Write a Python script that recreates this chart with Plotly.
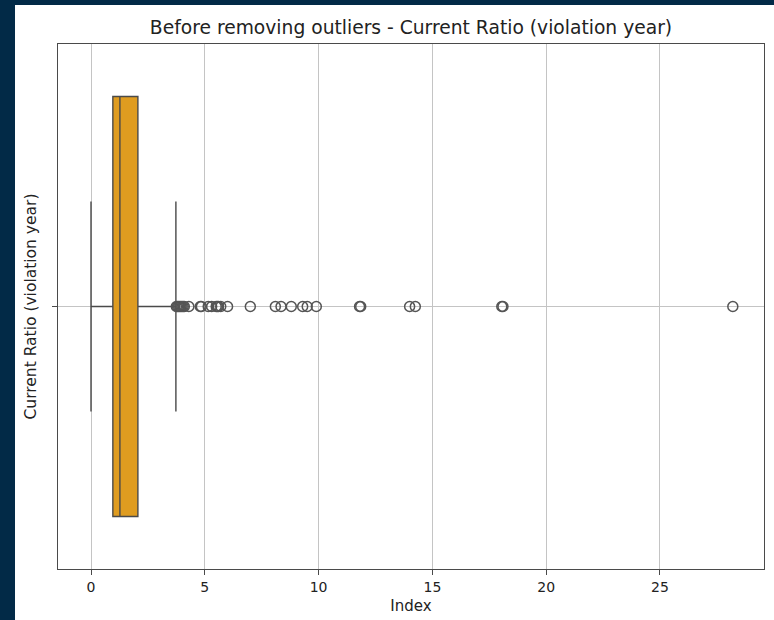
import plotly.graph_objects as go

# Data
title_text = "Before removing outliers - Current Ratio (violation year)"
x_label = "Index"
y_label = "Current Ratio (violation year)"
x_ticks = [0, 5, 10, 15, 20, 25]

q1 = [0.96]
median = [1.27]
q3 = [2.06]
lower_fence = [0.0]
upper_fence = [3.73]

outliers = [3.75, 3.8, 3.85, 3.9, 3.95, 4.0, 4.05, 4.1, 4.3, 4.8, 4.85, 5.15,
            5.3, 5.5, 5.55, 5.6, 5.7, 6.0, 7.0, 8.1, 8.35, 8.8, 9.3, 9.5, 9.9,
            11.8, 11.85, 14.0, 14.25, 18.05, 18.1, 28.2]

NAVY = "#022a47"
BOX_FILL = "#df9c20"
LINE = "#4a4a4a"
GRID = "#c4c4c4"
FONT = "DejaVu Sans"

fig = go.Figure()

fig.add_trace(go.Box(
    y=[0], q1=q1, median=median, q3=q3,
    lowerfence=lower_fence, upperfence=upper_fence,
    orientation="h", width=0.8, whiskerwidth=0.5,
    fillcolor=BOX_FILL, line=dict(color=LINE, width=1.4),
    boxpoints=False, showlegend=False, hoverinfo="skip",
))

fig.add_trace(go.Scatter(
    x=outliers, y=[0] * len(outliers), mode="markers",
    marker=dict(symbol="circle-open", size=10, color="#555555",
                line=dict(width=1.5, color="#555555")),
    showlegend=False, hoverinfo="skip",
))

# white page area over navy frame
fig.add_shape(type="rect", xref="paper", yref="paper",
              x0=-0.0609, x1=1.1, y0=-0.3, y1=1.0743,
              fillcolor="white", line=dict(width=0), layer="below")

fig.update_layout(
    width=774, height=620,
    margin=dict(l=58, r=10, t=44, b=51),
    paper_bgcolor=NAVY, plot_bgcolor="white",
    font=dict(family=FONT, size=14, color="#222222"),
    title=dict(text=title_text, x=0.5, xref="paper", xanchor="center",
               y=1 - 27 / 620, yanchor="middle",
               font=dict(family=FONT, size=18.7, color="#222222")),
    xaxis=dict(range=[-1.45, 29.57], tickvals=x_ticks,
               showgrid=True, gridcolor=GRID, gridwidth=1,
               showline=True, linecolor=LINE, linewidth=1.3, mirror=True,
               ticks="outside", ticklen=5, tickcolor=LINE, tickwidth=1,
               zeroline=False,
               title=dict(text=x_label, standoff=6, font=dict(size=15)),
               tickfont=dict(size=14)),
    yaxis=dict(range=[-0.5, 0.5], tickvals=[0], ticktext=[""],
               showgrid=True, gridcolor=GRID, gridwidth=1,
               showline=True, linecolor=LINE, linewidth=1.3, mirror=True,
               ticks="outside", ticklen=5, tickcolor=LINE, tickwidth=1,
               zeroline=False,
               title=dict(text=y_label, standoff=8, font=dict(size=15.5))),
)

fig.write_html("out.html",
               config={"displayModeBar": False},
               post_script="document.body.style.margin='0';")
